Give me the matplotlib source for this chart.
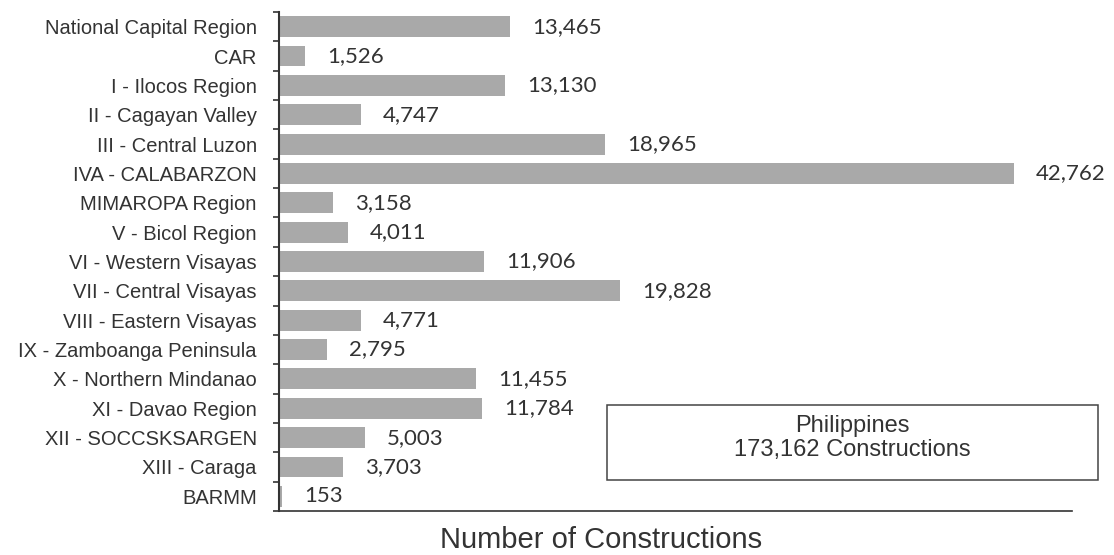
import numpy as np
import matplotlib.pyplot as plt

regions = ["National Capital Region", "CAR", "I - Ilocos Region", "II - Cagayan Valley",
           "III - Central Luzon", "IVA - CALABARZON", "MIMAROPA Region", "V - Bicol Region",
           "VI - Western Visayas", "VII - Central Visayas", "VIII - Eastern Visayas",
           "IX - Zamboanga Peninsula", "X - Northern Mindanao", "XI - Davao Region",
           "XII - SOCCSKSARGEN", "XIII - Caraga", "BARMM"]
counts = [13465, 1526, 13130, 4747, 18965, 42762, 3158, 4011, 11906, 19828,
          4771, 2795, 11455, 11784, 5003, 3703, 153]
box_text = "Philippines\n173,162 Constructions"
xlabel = "Number of Constructions"

W, H = 1114, 555
fig = plt.figure(figsize=(W / 100, H / 100), dpi=100)
# axes placed in pixel coordinates of the reference
ax = fig.add_axes([279 / W, (H - 511) / H, (1072 - 279) / W, (511 - 12) / H])

y = np.arange(len(regions))
ax.barh(y, counts, height=0.71, color="#a9a9a9")
ax.set_xlim(0, 46140)
ax.set_ylim(16.40, -0.456)

for yi, v in zip(y, counts):
    ax.annotate(f"{v:,}", (v, yi), xytext=(16, 0), textcoords="offset points",
                ha="left", va="center", fontsize=16, family="Lato", color="#333333")

ax.set_yticks(y)
ax.set_yticklabels(regions, fontsize=14.5, family="Liberation Sans", color="#333333")
ax.tick_params(axis="y", length=0, pad=16)
ax.set_yticks(np.arange(-0.5, len(regions), 1), minor=True)
ax.tick_params(axis="y", which="minor", length=4, width=1.2, color="#333333")
ax.set_xticks([])

for s in ["top", "right"]:
    ax.spines[s].set_visible(False)
ax.spines["left"].set_color("#333333")
ax.spines["left"].set_linewidth(1.5)
ax.spines["bottom"].set_color("#333333")
ax.spines["bottom"].set_linewidth(1.2)

# summary box
box = plt.Rectangle((607 / W, 1 - 480 / H), (1098 - 607) / W, (480 - 405) / H,
                    transform=fig.transFigure, fill=False, ec="#444444", lw=1.1)
fig.add_artist(box)
fig.text(852 / W, 1 - 438 / H, box_text, ha="center", va="center", fontsize=17,
         family="Liberation Sans", color="#333333", linespacing=1.15)

fig.text(601 / W, 1 - 540 / H, xlabel, ha="center", va="center", fontsize=21,
         family="Liberation Sans", color="#333333")

fig.savefig("out.png", dpi=100)
